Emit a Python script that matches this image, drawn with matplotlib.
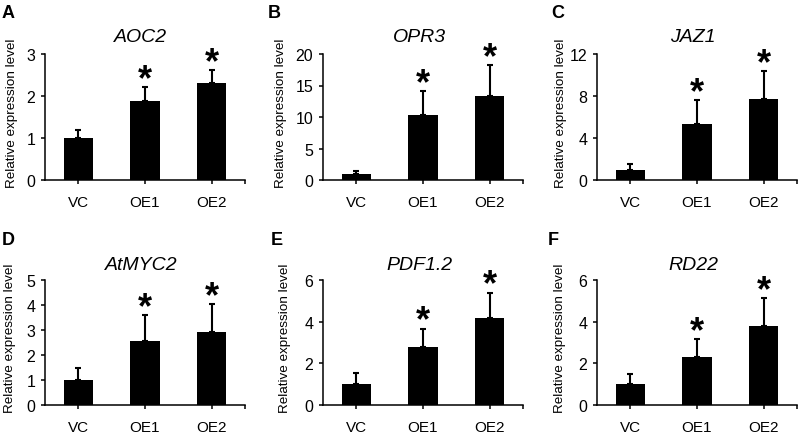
import matplotlib
matplotlib.use("Agg")
import matplotlib.pyplot as plt

plt.rcParams['font.family'] = ['Liberation Sans', 'DejaVu Sans']

# data
lines = ["VC", "OE1", "OE2"]
genes = ["AOC2", "OPR3", "JAZ1", "AtMYC2", "PDF1.2", "RD22"]
letters = ["A", "B", "C", "D", "E", "F"]

aoc2 = [1.0, 1.88, 2.30]
aoc2_err = [0.18, 0.34, 0.31]
opr3 = [1.0, 10.3, 13.4]
opr3_err = [0.5, 3.8, 4.8]
jaz1 = [1.0, 5.3, 7.7]
jaz1_err = [0.55, 2.3, 2.7]
myc2 = [1.0, 2.56, 2.91]
myc2_err = [0.5, 1.03, 1.14]
pdf12 = [1.0, 2.79, 4.2]
pdf12_err = [0.55, 0.88, 1.2]
rd22 = [1.0, 2.31, 3.77]
rd22_err = [0.48, 0.85, 1.35]

means = [aoc2, opr3, jaz1, myc2, pdf12, rd22]
errs = [aoc2_err, opr3_err, jaz1_err, myc2_err, pdf12_err, rd22_err]
yticks = [[0, 1, 2, 3], [0, 5, 10, 15, 20], [0, 4, 8, 12],
          [0, 1, 2, 3, 4, 5], [0, 2, 4, 6], [0, 2, 4, 6]]
signif = [False, True, True]

W, H = 799, 435
fig = plt.figure(figsize=(W / 100, H / 100), dpi=100)

# layout in pixels
lefts = [45, 323, 597]
tops = [55, 281]
bottoms = [181, 406]
axw = 200
ylab_x = [12, 281, 561, 10, 285, 560]
letter_x = [2, 268, 551, 2, 271, 548]
letter_y = [14, 241]
title_y = [38, 265]

for k in range(6):
    r, c = k // 3, k % 3
    l, t, b = lefts[c], tops[r], bottoms[r]
    ax = fig.add_axes([l / W, 1 - b / H, axw / W, (b - t) / H])
    x = range(3)
    ax.bar(x, means[k], width=0.44, color="black", zorder=2)
    ax.errorbar(x, means[k], yerr=[[0, 0, 0], errs[k]], fmt="none",
                ecolor="black", elinewidth=1.5, capsize=2.2, capthick=1.5, zorder=1)
    for i in x:
        if signif[i]:
            ax.annotate("*", xy=(i, means[k][i] + errs[k][i]), xytext=(0, -1.5),
                        textcoords="offset points", ha="center", va="baseline",
                        fontsize=26, fontweight="bold")
    ax.set_xlim(-0.5, 2.5)
    ax.set_ylim(yticks[k][0], yticks[k][-1])
    ax.set_yticks(yticks[k])
    ax.set_xticks(list(x) + [2.5])
    ax.set_xticklabels(lines + [""])
    ax.spines["top"].set_visible(False)
    ax.spines["right"].set_visible(False)
    ax.spines["left"].set_linewidth(1.1)
    ax.spines["bottom"].set_linewidth(1.1)
    ax.spines["left"].set_zorder(3)
    ax.spines["bottom"].set_zorder(3)
    ax.tick_params(axis="y", length=3, width=1.1, pad=4, labelsize=11.5)
    ax.tick_params(axis="x", length=3, width=1.1, pad=8, labelsize=11)

    fig.text(ylab_x[k] / W, 1 - ((t + b) / 2 - 5) / H, "Relative expression level",
             rotation=90, ha="center", va="center", fontsize=9.7)
    fig.text((l + axw * 0.48) / W, 1 - title_y[r] / H, genes[k],
             ha="center", va="center", fontsize=14, style="italic")
    fig.text(letter_x[k] / W, 1 - letter_y[r] / H, letters[k],
             ha="left", va="center", fontsize=13, fontweight="bold")

fig.savefig("out.png", dpi=100)
